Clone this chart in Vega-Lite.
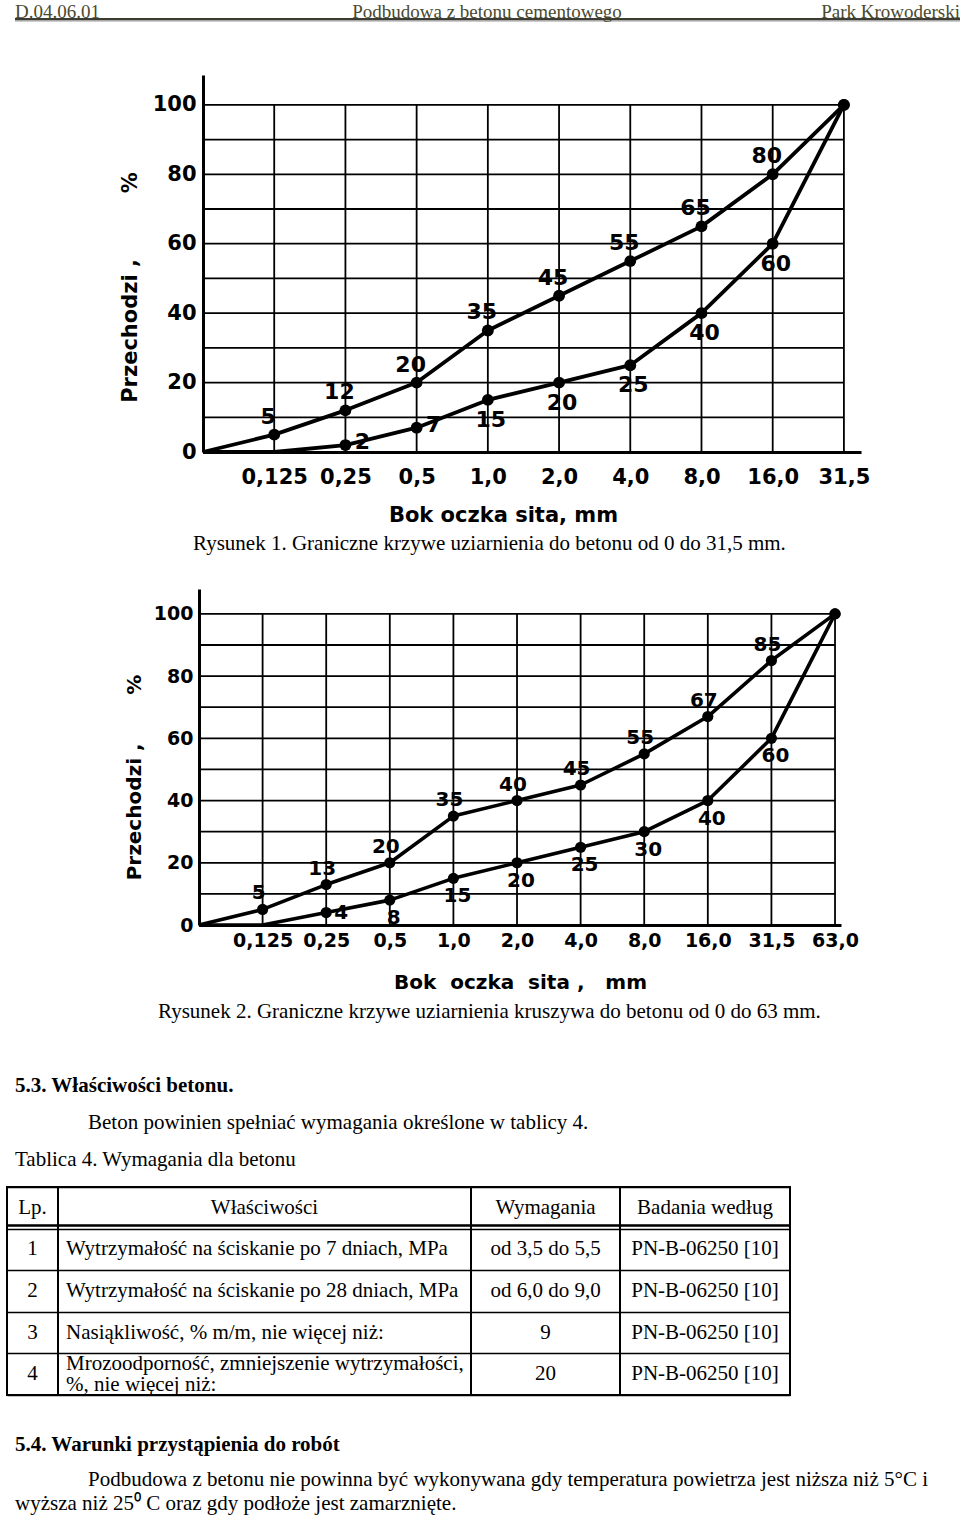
{
  "$schema": "https://vega.github.io/schema/vega-lite/v6.json",
  "padding": 0,
  "background": "white",
  "spacing": 0,
  "bounds": "flush",
  "config": {
    "view": {"stroke": null},
    "font": "Liberation Serif",
    "axis": {"domainColor": "black", "labelColor": "black", "titleColor": "black", "ticks": false, "grid": false, "labelFont": "DejaVu Sans", "titleFont": "DejaVu Sans", "labelFontWeight": "bold", "titleFontWeight": "bold"},
    "text": {"color": "black", "font": "Liberation Serif", "fontSize": 21, "baseline": "middle"}
  },
  "datasets": {
    "naglowek": [
      {"pole": "kod", "tekst": "D.04.06.01"},
      {"pole": "tytul", "tekst": "Podbudowa z betonu cementowego"},
      {"pole": "obiekt", "tekst": "Park Krowoderski"}
    ],
    "krzywe1": [
      {"sito": "0", "krzywa": "górna", "przechodzi": 0},
      {"sito": "0,125", "krzywa": "górna", "przechodzi": 5},
      {"sito": "0,25", "krzywa": "górna", "przechodzi": 12},
      {"sito": "0,5", "krzywa": "górna", "przechodzi": 20},
      {"sito": "1,0", "krzywa": "górna", "przechodzi": 35},
      {"sito": "2,0", "krzywa": "górna", "przechodzi": 45},
      {"sito": "4,0", "krzywa": "górna", "przechodzi": 55},
      {"sito": "8,0", "krzywa": "górna", "przechodzi": 65},
      {"sito": "16,0", "krzywa": "górna", "przechodzi": 80},
      {"sito": "31,5", "krzywa": "górna", "przechodzi": 100},
      {"sito": "0", "krzywa": "dolna", "przechodzi": 0},
      {"sito": "0,125", "krzywa": "dolna", "przechodzi": 0},
      {"sito": "0,25", "krzywa": "dolna", "przechodzi": 2},
      {"sito": "0,5", "krzywa": "dolna", "przechodzi": 7},
      {"sito": "1,0", "krzywa": "dolna", "przechodzi": 15},
      {"sito": "2,0", "krzywa": "dolna", "przechodzi": 20},
      {"sito": "4,0", "krzywa": "dolna", "przechodzi": 25},
      {"sito": "8,0", "krzywa": "dolna", "przechodzi": 40},
      {"sito": "16,0", "krzywa": "dolna", "przechodzi": 60},
      {"sito": "31,5", "krzywa": "dolna", "przechodzi": 100}
    ],
    "krzywe2": [
      {"sito": "0", "krzywa": "górna", "przechodzi": 0},
      {"sito": "0,125", "krzywa": "górna", "przechodzi": 5},
      {"sito": "0,25", "krzywa": "górna", "przechodzi": 13},
      {"sito": "0,5", "krzywa": "górna", "przechodzi": 20},
      {"sito": "1,0", "krzywa": "górna", "przechodzi": 35},
      {"sito": "2,0", "krzywa": "górna", "przechodzi": 40},
      {"sito": "4,0", "krzywa": "górna", "przechodzi": 45},
      {"sito": "8,0", "krzywa": "górna", "przechodzi": 55},
      {"sito": "16,0", "krzywa": "górna", "przechodzi": 67},
      {"sito": "31,5", "krzywa": "górna", "przechodzi": 85},
      {"sito": "63,0", "krzywa": "górna", "przechodzi": 100},
      {"sito": "0", "krzywa": "dolna", "przechodzi": 0},
      {"sito": "0,125", "krzywa": "dolna", "przechodzi": 0},
      {"sito": "0,25", "krzywa": "dolna", "przechodzi": 4},
      {"sito": "0,5", "krzywa": "dolna", "przechodzi": 8},
      {"sito": "1,0", "krzywa": "dolna", "przechodzi": 15},
      {"sito": "2,0", "krzywa": "dolna", "przechodzi": 20},
      {"sito": "4,0", "krzywa": "dolna", "przechodzi": 25},
      {"sito": "8,0", "krzywa": "dolna", "przechodzi": 30},
      {"sito": "16,0", "krzywa": "dolna", "przechodzi": 40},
      {"sito": "31,5", "krzywa": "dolna", "przechodzi": 60},
      {"sito": "63,0", "krzywa": "dolna", "przechodzi": 100}
    ],
    "siatka": [
      {"przechodzi": 10}, {"przechodzi": 20}, {"przechodzi": 30}, {"przechodzi": 40}, {"przechodzi": 50},
      {"przechodzi": 60}, {"przechodzi": 70}, {"przechodzi": 80}, {"przechodzi": 90}, {"przechodzi": 100}
    ],
    "tekstA": [
      {"wiersz": "1", "tekst": "5.3. Właściwości betonu."},
      {"wiersz": "2", "tekst": "Beton powinien spełniać wymagania określone w tablicy 4."},
      {"wiersz": "3", "tekst": "Tablica 4. Wymagania dla betonu"}
    ],
    "tablica": [
      {"Lp": "Lp.", "Wlasciwosci": "Właściwości", "Wymagania": "Wymagania", "Badania": "Badania według"},
      {"Lp": "1", "Wlasciwosci": "Wytrzymałość na ściskanie po 7 dniach, MPa", "Wymagania": "od 3,5 do 5,5", "Badania": "PN-B-06250 [10]"},
      {"Lp": "2", "Wlasciwosci": "Wytrzymałość na ściskanie po 28 dniach, MPa", "Wymagania": "od 6,0 do 9,0", "Badania": "PN-B-06250 [10]"},
      {"Lp": "3", "Wlasciwosci": "Nasiąkliwość, % m/m, nie więcej niż:", "Wymagania": "9", "Badania": "PN-B-06250 [10]"},
      {"Lp": "4", "Wlasciwosci": "Mrozoodporność, zmniejszenie wytrzymałości,\n%, nie więcej niż:", "Wymagania": "20", "Badania": "PN-B-06250 [10]"}
    ],
    "tekstB": [
      {"wiersz": "1", "tekst": "5.4. Warunki przystąpienia do robót"}
    ],
    "tekstC": [
      {"wiersz": "1", "tekst": "Podbudowa z betonu nie powinna być wykonywana gdy temperatura powietrza jest niższa niż 5°C i"},
      {"wiersz": "2", "tekst": "wyższa niż 25⁰ C oraz gdy podłoże jest zamarznięte."}
    ]
  },
  "vconcat": [
    {"width": 1, "height": 2, "data": {"values": [{"pusty": 0}]}, "mark": {"type": "point", "opacity": 0}},
    {
      "width": 960, "height": 15,
      "data": {"name": "naglowek"},
      "encoding": {
        "x": {"field": "pole", "type": "nominal", "scale": {"type": "point", "domain": ["kod", "tytul", "obiekt"], "padding": 0}, "axis": null},
        "y": {"datum": 0, "type": "quantitative", "scale": {"domain": [0, 1]}, "axis": null}
      },
      "layer": [
        {"mark": {"type": "rule", "color": "#a8a8a8", "strokeWidth": 1.5, "xOffset": 12, "x2Offset": -3, "yOffset": 1.5}, "encoding": {"x": {"datum": "kod", "type": "nominal"}, "x2": {"datum": "obiekt"}}},
        {"mark": {"type": "rule", "color": "#3a3a30", "strokeWidth": 1.4, "xOffset": 12, "x2Offset": -3}, "encoding": {"x": {"datum": "kod", "type": "nominal"}, "x2": {"datum": "obiekt"}}},
        {"transform": [{"filter": "datum.pole == 'kod'"}], "mark": {"type": "text", "align": "left", "baseline": "alphabetic", "dx": 12, "dy": -1.5, "fontSize": 19, "color": "#4a4a30"}, "encoding": {"text": {"field": "tekst", "type": "nominal"}}},
        {"transform": [{"filter": "datum.pole == 'tytul'"}], "mark": {"type": "text", "align": "center", "baseline": "alphabetic", "dx": 4, "dy": -1.5, "fontSize": 19, "color": "#4a4a30"}, "encoding": {"text": {"field": "tekst", "type": "nominal"}}},
        {"transform": [{"filter": "datum.pole == 'obiekt'"}], "mark": {"type": "text", "align": "right", "baseline": "alphabetic", "dx": -3, "dy": -1.5, "fontSize": 19, "color": "#4a4a30"}, "encoding": {"text": {"field": "tekst", "type": "nominal"}}}
      ]
    },
    {"width": 1, "height": 56, "data": {"values": [{"pusty": 0}]}, "mark": {"type": "point", "opacity": 0}},
    {
      "spacing": 0, "bounds": "flush",
      "hconcat": [
        {"width": 200, "height": 377, "data": {"values": [{"pusty": 0}]}, "mark": {"type": "point", "opacity": 0}},
        {
          "width": 658, "height": 377,
          "data": {"name": "krzywe1"},
          "title": {"text": "Rysunek 1. Graniczne krzywe uziarnienia do betonu od 0 do 31,5 mm.", "orient": "bottom", "anchor": "start", "frame": "group", "dx": -10, "offset": 8, "font": "Liberation Serif", "fontSize": 21, "fontWeight": "normal", "color": "black"},
          "encoding": {
            "x": {"field": "sito", "type": "ordinal", "scale": {"type": "point", "domain": ["0", "0,125", "0,25", "0,5", "1,0", "2,0", "4,0", "8,0", "16,0", "31,5"], "padding": 0.12, "align": 0},
                  "axis": {"title": "Bok oczka sita, mm", "labelExpr": "datum.value == '0' ? '' : datum.label", "labelFontSize": 21, "labelPadding": 14, "labelAngle": 0, "labelOverlap": false, "labelBound": false, "domainWidth": 3, "titleFontSize": 21, "titlePadding": 17, "titleX": 300}},
            "y": {"field": "przechodzi", "type": "quantitative", "scale": {"domain": [0, 108.6], "nice": false},
                  "axis": {"title": "Przechodzi ,\u00a0\u00a0\u00a0\u00a0\u00a0\u00a0\u00a0\u00a0\u00a0%", "values": [0, 20, 40, 60, 80, 100], "labelFontSize": 21, "labelPadding": 7, "labelFlush": false, "domainWidth": 3, "titleFontSize": 21, "titlePadding": 12, "titleY": 212}}
          },
          "layer": [
            {"data": {"name": "siatka"}, "mark": {"type": "rule", "color": "black", "strokeWidth": 1.8}, "encoding": {"x": {"datum": "0", "type": "ordinal"}, "x2": {"datum": "31,5"}}},
            {"transform": [{"filter": "datum.krzywa == 'górna' && datum.sito != '0'"}], "mark": {"type": "rule", "color": "black", "strokeWidth": 1.8}, "encoding": {"y": {"datum": 0, "type": "quantitative"}, "y2": {"datum": 100}}},
            {"mark": {"type": "line", "color": "black", "strokeWidth": 3.8, "strokeJoin": "round"}, "encoding": {"detail": {"field": "krzywa", "type": "nominal"}, "order": {"value": null}}},
            {"transform": [{"filter": "datum.przechodzi > 0"}], "mark": {"type": "circle", "size": 140, "color": "black", "opacity": 1}},
            {"transform": [{"filter": "datum.krzywa == 'górna' && datum.przechodzi > 0 && datum.przechodzi < 100"}], "mark": {"type": "text", "font": "DejaVu Sans", "fontWeight": "bold", "fontSize": 22, "dx": -6, "dy": -18}, "encoding": {"text": {"field": "przechodzi", "type": "quantitative"}}},
            {"transform": [{"filter": "datum.krzywa == 'dolna' && datum.przechodzi >= 10 && datum.przechodzi < 100"}], "mark": {"type": "text", "font": "DejaVu Sans", "fontWeight": "bold", "fontSize": 22, "dx": 3, "dy": 20}, "encoding": {"text": {"field": "przechodzi", "type": "quantitative"}}},
            {"transform": [{"filter": "datum.krzywa == 'dolna' && datum.przechodzi > 0 && datum.przechodzi < 10"}], "mark": {"type": "text", "font": "DejaVu Sans", "fontWeight": "bold", "fontSize": 22, "dx": 17, "dy": -3}, "encoding": {"text": {"field": "przechodzi", "type": "quantitative"}}}
          ]
        }
      ]
    },
    {"width": 1, "height": 514, "data": {"values": [{"pusty": 0}]}, "mark": {"type": "point", "opacity": 0}},
    {
      "spacing": 0, "bounds": "flush",
      "hconcat": [
        {"width": 196, "height": 336, "data": {"values": [{"pusty": 0}]}, "mark": {"type": "point", "opacity": 0}},
        {
          "width": 642, "height": 336,
          "data": {"name": "krzywe2"},
          "title": {"text": "Rysunek 2. Graniczne krzywe uziarnienia kruszywa do betonu od 0 do 63 mm.", "orient": "bottom", "anchor": "start", "frame": "group", "dx": -41, "offset": 9, "font": "Liberation Serif", "fontSize": 21, "fontWeight": "normal", "color": "black"},
          "encoding": {
            "x": {"field": "sito", "type": "ordinal", "scale": {"type": "point", "domain": ["0", "0,125", "0,25", "0,5", "1,0", "2,0", "4,0", "8,0", "16,0", "31,5", "63,0"], "padding": 0.047, "align": 0},
                  "axis": {"title": "Bok\u00a0\u00a0oczka\u00a0\u00a0sita\u00a0,\u00a0\u00a0\u00a0mm", "labelExpr": "datum.value == '0' ? '' : datum.label", "labelFontSize": 19, "labelPadding": 6, "labelAngle": 0, "labelOverlap": false, "labelBound": false, "domainWidth": 3, "titleFontSize": 20, "titlePadding": 22}},
            "y": {"field": "przechodzi", "type": "quantitative", "scale": {"domain": [0, 108], "nice": false},
                  "axis": {"title": "Przechodzi\u00a0,\u00a0\u00a0\u00a0\u00a0\u00a0\u00a0\u00a0%", "values": [0, 20, 40, 60, 80, 100], "labelFontSize": 19, "labelPadding": 6, "labelFlush": false, "domainWidth": 3, "titleFontSize": 20, "titlePadding": 9, "titleY": 188}}
          },
          "layer": [
            {"data": {"name": "siatka"}, "mark": {"type": "rule", "color": "black", "strokeWidth": 1.8}, "encoding": {"x": {"datum": "0", "type": "ordinal"}, "x2": {"datum": "63,0"}}},
            {"transform": [{"filter": "datum.krzywa == 'górna' && datum.sito != '0'"}], "mark": {"type": "rule", "color": "black", "strokeWidth": 1.8}, "encoding": {"y": {"datum": 0, "type": "quantitative"}, "y2": {"datum": 100}}},
            {"mark": {"type": "line", "color": "black", "strokeWidth": 3.6, "strokeJoin": "round"}, "encoding": {"detail": {"field": "krzywa", "type": "nominal"}, "order": {"value": null}}},
            {"transform": [{"filter": "datum.przechodzi > 0"}], "mark": {"type": "circle", "size": 125, "color": "black", "opacity": 1}},
            {"transform": [{"filter": "datum.krzywa == 'górna' && datum.przechodzi > 0 && datum.przechodzi < 100"}], "mark": {"type": "text", "font": "DejaVu Sans", "fontWeight": "bold", "fontSize": 20, "dx": -4, "dy": -16}, "encoding": {"text": {"field": "przechodzi", "type": "quantitative"}}},
            {"transform": [{"filter": "datum.krzywa == 'dolna' && datum.przechodzi >= 5 && datum.przechodzi < 100"}], "mark": {"type": "text", "font": "DejaVu Sans", "fontWeight": "bold", "fontSize": 20, "dx": 4, "dy": 18}, "encoding": {"text": {"field": "przechodzi", "type": "quantitative"}}},
            {"transform": [{"filter": "datum.krzywa == 'dolna' && datum.przechodzi > 0 && datum.przechodzi < 5"}], "mark": {"type": "text", "font": "DejaVu Sans", "fontWeight": "bold", "fontSize": 20, "dx": 15, "dy": 0}, "encoding": {"text": {"field": "przechodzi", "type": "quantitative"}}}
          ]
        }
      ]
    },
    {"width": 1, "height": 478, "data": {"values": [{"pusty": 0}]}, "mark": {"type": "point", "opacity": 0}},
    {
      "width": 960, "height": 111,
      "data": {"name": "tekstA"},
      "encoding": {
        "y": {"field": "wiersz", "type": "ordinal", "scale": {"type": "point", "padding": 0.5, "domain": ["1", "2", "3"]}, "axis": null},
        "x": {"datum": 0, "type": "quantitative", "scale": {"domain": [0, 1]}, "axis": null},
        "text": {"field": "tekst", "type": "nominal"}
      },
      "layer": [
        {"transform": [{"filter": "datum.wiersz == '1'"}], "mark": {"type": "text", "align": "left", "dx": 12, "fontWeight": "bold"}},
        {"transform": [{"filter": "datum.wiersz == '2'"}], "mark": {"type": "text", "align": "left", "dx": 85}},
        {"transform": [{"filter": "datum.wiersz == '3'"}], "mark": {"type": "text", "align": "left", "dx": 12}}
      ]
    },
    {"width": 1, "height": 9, "data": {"values": [{"pusty": 0}]}, "mark": {"type": "point", "opacity": 0}},
    {
      "spacing": 0, "bounds": "flush",
      "hconcat": [
        {"width": 4, "height": 208, "data": {"values": [{"pusty": 0}]}, "mark": {"type": "point", "opacity": 0}},
        {
          "width": 51, "height": 208, "data": {"name": "tablica"},
          "view": {"stroke": "black", "strokeWidth": 2},
          "encoding": {"y": {"field": "Lp", "type": "ordinal", "scale": {"type": "band", "domain": ["Lp.", "1", "2", "3", "4"], "paddingInner": 0, "paddingOuter": 0}, "axis": {"title": null, "labels": false, "ticks": false, "domain": false, "grid": true, "gridColor": "black", "gridWidth": 1.5, "tickBand": "extent"}}},
          "layer": [
            {"mark": {"type": "text"}, "encoding": {"text": {"field": "Lp", "type": "nominal"}}},
            {"mark": {"type": "rule", "color": "black", "strokeWidth": 1.5, "yOffset": -3}, "encoding": {"y": {"datum": "1", "type": "ordinal", "bandPosition": 0}}}
          ]
        },
        {
          "width": 413, "height": 208, "data": {"name": "tablica"},
          "view": {"stroke": "black", "strokeWidth": 2},
          "encoding": {"y": {"field": "Lp", "type": "ordinal", "scale": {"type": "band", "domain": ["Lp.", "1", "2", "3", "4"], "paddingInner": 0, "paddingOuter": 0}, "axis": {"title": null, "labels": false, "ticks": false, "domain": false, "grid": true, "gridColor": "black", "gridWidth": 1.5, "tickBand": "extent"}}},
          "layer": [
            {"transform": [{"filter": "datum.Lp == 'Lp.'"}], "mark": {"type": "text"}, "encoding": {"text": {"field": "Wlasciwosci", "type": "nominal"}}},
            {"transform": [{"filter": "datum.Lp != 'Lp.' && datum.Lp != '4'"}], "mark": {"type": "text", "align": "left", "dx": 8}, "encoding": {"text": {"field": "Wlasciwosci", "type": "nominal"}, "x": {"datum": 0, "type": "quantitative", "scale": {"domain": [0, 1]}, "axis": null}}},
            {"transform": [{"filter": "datum.Lp == '4'"}], "mark": {"type": "text", "align": "left", "dx": 8, "dy": -10, "lineBreak": "\n", "lineHeight": 21}, "encoding": {"text": {"field": "Wlasciwosci", "type": "nominal"}, "x": {"datum": 0, "type": "quantitative", "scale": {"domain": [0, 1]}, "axis": null}}},
            {"mark": {"type": "rule", "color": "black", "strokeWidth": 1.5, "yOffset": -3}, "encoding": {"y": {"datum": "1", "type": "ordinal", "bandPosition": 0}}}
          ]
        },
        {
          "width": 149, "height": 208, "data": {"name": "tablica"},
          "view": {"stroke": "black", "strokeWidth": 2},
          "encoding": {"y": {"field": "Lp", "type": "ordinal", "scale": {"type": "band", "domain": ["Lp.", "1", "2", "3", "4"], "paddingInner": 0, "paddingOuter": 0}, "axis": {"title": null, "labels": false, "ticks": false, "domain": false, "grid": true, "gridColor": "black", "gridWidth": 1.5, "tickBand": "extent"}}},
          "layer": [
            {"mark": {"type": "text"}, "encoding": {"text": {"field": "Wymagania", "type": "nominal"}}},
            {"mark": {"type": "rule", "color": "black", "strokeWidth": 1.5, "yOffset": -3}, "encoding": {"y": {"datum": "1", "type": "ordinal", "bandPosition": 0}}}
          ]
        },
        {
          "width": 170, "height": 208, "data": {"name": "tablica"},
          "view": {"stroke": "black", "strokeWidth": 2},
          "encoding": {"y": {"field": "Lp", "type": "ordinal", "scale": {"type": "band", "domain": ["Lp.", "1", "2", "3", "4"], "paddingInner": 0, "paddingOuter": 0}, "axis": {"title": null, "labels": false, "ticks": false, "domain": false, "grid": true, "gridColor": "black", "gridWidth": 1.5, "tickBand": "extent"}}},
          "layer": [
            {"mark": {"type": "text"}, "encoding": {"text": {"field": "Badania", "type": "nominal"}}},
            {"mark": {"type": "rule", "color": "black", "strokeWidth": 1.5, "yOffset": -3}, "encoding": {"y": {"datum": "1", "type": "ordinal", "bandPosition": 0}}}
          ]
        }
      ]
    },
    {"width": 1, "height": 245, "data": {"values": [{"pusty": 0}]}, "mark": {"type": "point", "opacity": 0}},
    {
      "width": 960, "height": 26,
      "data": {"name": "tekstB"},
      "mark": {"type": "text", "align": "left", "dx": 12, "fontWeight": "bold"},
      "encoding": {
        "x": {"datum": 0, "type": "quantitative", "scale": {"domain": [0, 1]}, "axis": null},
        "text": {"field": "tekst", "type": "nominal"}
      }
    },
    {"width": 1, "height": 10, "data": {"values": [{"pusty": 0}]}, "mark": {"type": "point", "opacity": 0}},
    {
      "width": 960, "height": 48,
      "data": {"name": "tekstC"},
      "encoding": {
        "y": {"field": "wiersz", "type": "ordinal", "scale": {"type": "point", "padding": 0.5, "domain": ["1", "2"]}, "axis": null},
        "x": {"datum": 0, "type": "quantitative", "scale": {"domain": [0, 1]}, "axis": null},
        "text": {"field": "tekst", "type": "nominal"}
      },
      "layer": [
        {"transform": [{"filter": "datum.wiersz == '1'"}], "mark": {"type": "text", "align": "left", "dx": 85}},
        {"transform": [{"filter": "datum.wiersz == '2'"}], "mark": {"type": "text", "align": "left", "dx": 12}}
      ]
    }
  ]
}
